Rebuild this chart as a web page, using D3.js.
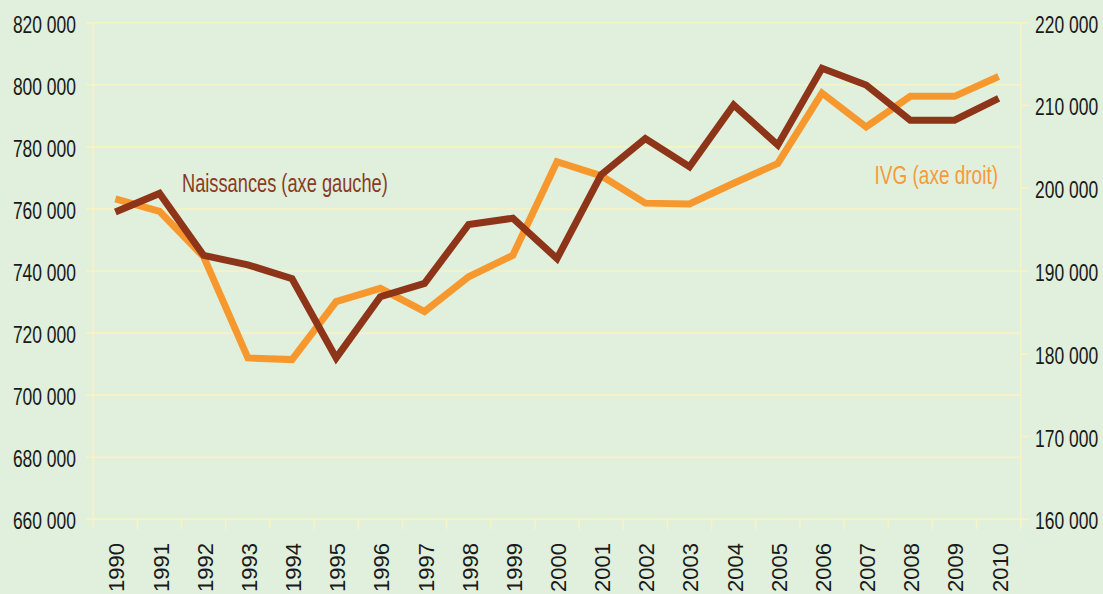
<!DOCTYPE html>
<html><head><meta charset="utf-8">
<script src="https://cdn.jsdelivr.net/npm/d3@7"></script>
<style>
html,body{margin:0;padding:0;background:#e0f0dc;}
svg{display:block;}
text{font-family:"Liberation Sans",Arial,sans-serif;}
</style></head>
<body>
<svg id="c" width="1103" height="594"></svg>
<script>
const years = ["1990","1991","1992","1993","1994","1995","1996","1997","1998","1999","2000","2001","2002","2003","2004","2005","2006","2007","2008","2009","2010"];
const naissances = [759000,765000,745000,742000,737500,712000,731700,736000,755000,757000,744000,771000,782700,773600,793500,780600,805300,799900,788600,788600,795600];
const ivg = [198700,197200,191700,179500,179300,186300,187900,185100,189300,191900,203200,201500,198200,198100,200600,203000,211500,207400,211100,211100,213500];
const leftTicks = [660000,680000,700000,720000,740000,760000,780000,800000,820000];
const rightTicks = [160000,170000,180000,190000,200000,210000,220000];
const labelNaiss = "Naissances (axe gauche)";
const labelIvg = "IVG (axe droit)";

const svg = d3.select("#c");
const L = 93.3, R = 1020.7, T = 22.7, B = 519.3;
const fmt = v => d3.format(",")(v).replace(/,/g, " ");

svg.append("rect").attr("width",1103).attr("height",594).attr("fill","#e0f0dc");

const x = d3.scaleBand().domain(years).range([L, R]).padding(0);
const yL = d3.scaleLinear().domain([660000, 820000]).range([B, T]);
const yR = d3.scaleLinear().domain([160000, 220000]).range([B, T]);
const grid = "#f8f3c2";

// gridlines
svg.append("g").selectAll("line").data(leftTicks).join("line")
  .attr("x1", L - 7).attr("x2", R).attr("y1", d => yL(d)).attr("y2", d => yL(d))
  .attr("stroke", grid).attr("stroke-width", 1.6);

// axes lines
svg.append("line").attr("x1", L).attr("x2", L).attr("y1", T).attr("y2", B + 9).attr("stroke", grid).attr("stroke-width", 1.6);
svg.append("line").attr("x1", R).attr("x2", R).attr("y1", T).attr("y2", B + 9).attr("stroke", grid).attr("stroke-width", 1.6);
svg.append("line").attr("x1", L - 7).attr("x2", R + 8).attr("y1", B).attr("y2", B).attr("stroke", grid).attr("stroke-width", 1.6);

// right ticks
svg.append("g").selectAll("line").data(rightTicks).join("line")
  .attr("x1", R).attr("x2", R + 8).attr("y1", d => yR(d)).attr("y2", d => yR(d))
  .attr("stroke", grid).attr("stroke-width", 1.6);

// x ticks at band boundaries
const bounds = years.map(y => x(y)).concat([R]);
svg.append("g").selectAll("line").data(bounds.slice(1)).join("line")
  .attr("x1", d => d).attr("x2", d => d).attr("y1", B).attr("y2", B + 10)
  .attr("stroke", grid).attr("stroke-width", 1.6);

// left tick labels
svg.append("g").selectAll("text").data(leftTicks).join("text")
  .attr("transform", d => `translate(76,${yL(d) + 10}) scale(0.76,1)`)
  .attr("text-anchor", "end").attr("font-size", 23).attr("fill", "#1a1a1a")
  .text(fmt);

// right tick labels
svg.append("g").selectAll("text").data(rightTicks).join("text")
  .attr("transform", d => `translate(1035,${yR(d) + 10}) scale(0.76,1)`)
  .attr("text-anchor", "start").attr("font-size", 23).attr("fill", "#1a1a1a")
  .text(fmt);

// x labels
svg.append("g").selectAll("text").data(years).join("text")
  .attr("transform", d => `translate(${x(d) + x.bandwidth()/2 + 9},543) rotate(-90)`)
  .attr("text-anchor", "end").attr("font-size", 22).attr("fill", "#1a1a1a")
  .text(d => d);

const cx = d => x(d) + x.bandwidth()/2;
const lineIvg = d3.line().x((d,i) => cx(years[i])).y(d => yR(d));
const lineN = d3.line().x((d,i) => cx(years[i])).y(d => yL(d));

svg.append("path").datum(ivg).attr("d", lineIvg).attr("fill","none")
  .attr("stroke","#f7982f").attr("stroke-width",7).attr("stroke-linejoin","miter");
svg.append("path").datum(naissances).attr("d", lineN).attr("fill","none")
  .attr("stroke","#8e3519").attr("stroke-width",7).attr("stroke-linejoin","miter");

svg.append("text").attr("transform","translate(182,192) scale(0.73,1)")
  .attr("font-size",25).attr("fill","#8b3a22").text(labelNaiss);
svg.append("text").attr("transform","translate(998,184) scale(0.76,1)")
  .attr("text-anchor","end").attr("font-size",25).attr("fill","#f79a3a").text(labelIvg);
</script>
</body></html>
